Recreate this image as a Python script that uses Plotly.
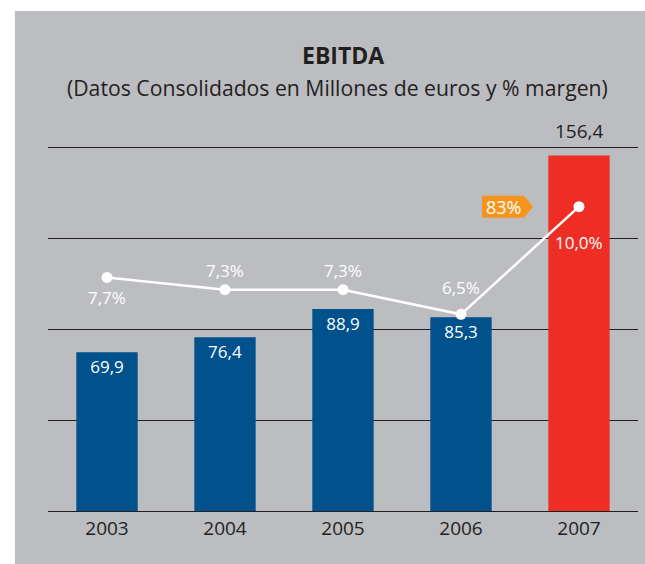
import plotly.graph_objects as go

years = ["2003", "2004", "2005", "2006", "2007"]
ebitda = [69.9, 76.4, 88.9, 85.3, 156.4]
ebitda_labels = ["69,9", "76,4", "88,9", "85,3", "156,4"]
margin = [7.7, 7.3, 7.3, 6.5, 10.0]
margin_labels = ["7,7%", "7,3%", "7,3%", "6,5%", "10,0%"]
growth_label = "83%"

blue = "#00518c"
red = "#ee2e24"
orange = "#f7941d"
gray = "#bcbdc1"
dark = "#231f20"
font = "Open Sans"

pos = list(range(len(years)))
bar_colors = [blue] * 4 + [red]
# the last bar gets its label above it as an annotation
bar_text = ebitda_labels[:-1] + [""]

bars = go.Bar(
    x=pos,
    y=ebitda,
    text=bar_text,
    textposition="inside",
    insidetextanchor="end",
    insidetextfont=dict(color="white", size=17, family=font),
    textangle=0,
    cliponaxis=False,
    marker=dict(color=bar_colors, line=dict(width=0)),
    width=0.52,
    hoverinfo="skip",
)

line = go.Scatter(
    x=pos,
    y=margin,
    yaxis="y2",
    mode="lines+markers",
    line=dict(color="white", width=2.5),
    marker=dict(color="white", size=11),
    cliponaxis=False,
    hoverinfo="skip",
)

fig = go.Figure(data=[bars, line])

fig.add_annotation(
    x=pos[-1], y=ebitda[-1], xref="x", yref="y", text=ebitda_labels[-1],
    showarrow=False, yanchor="bottom", yshift=10,
    font=dict(color=dark, size=19, family=font),
)

# margin labels: below for first and last point, above for the others
label_shift = [-20, 19, 19, 27, -36]
for p, m, lab, sh in zip(pos, margin, margin_labels, label_shift):
    fig.add_annotation(
        x=p, y=m, xref="x", yref="y2", text=lab, showarrow=False,
        yshift=sh, font=dict(color="white", size=17, family=font),
    )

# orange growth tag next to the 2007 point
fig.add_shape(
    type="path", xref="x", yref="y2",
    xsizemode="pixel", ysizemode="pixel",
    xanchor=pos[-1], yanchor=margin[-1],
    path="M-97,11 L-55,11 L-46,0 L-55,-11 L-97,-11 Z",
    fillcolor=orange, line=dict(width=0),
)
fig.add_annotation(
    x=pos[-1], y=margin[-1], xref="x", yref="y2", text=growth_label,
    showarrow=False, xshift=-76, yshift=0,
    font=dict(color="white", size=18, family=font),
)

fig.add_annotation(
    x=0.5, y=1.249, xref="paper", yref="paper", text="<b>EBITDA</b>",
    showarrow=False, yanchor="middle",
    font=dict(color=dark, size=23, family=font),
)
fig.add_annotation(
    x=0.49, y=1.16, xref="paper", yref="paper",
    text="(Datos Consolidados en Millones de euros y % margen)",
    showarrow=False, yanchor="middle",
    font=dict(color=dark, size=21.2, family=font),
)

# white strips on the left and top, the rest of the page is the gray panel
fig.add_shape(
    type="rect", xref="paper", yref="paper", x0=-0.1, x1=-0.056,
    y0=-0.2, y1=1.5, fillcolor="white", line=dict(width=0), layer="below",
)
fig.add_shape(
    type="rect", xref="paper", yref="paper", x0=-0.1, x1=1.1,
    y0=1.37, y1=1.5, fillcolor="white", line=dict(width=0), layer="below",
)

fig.update_layout(
    width=645,
    height=564,
    margin=dict(l=48, r=7, t=146, b=53),
    paper_bgcolor=gray,
    plot_bgcolor=gray,
    showlegend=False,
    xaxis=dict(
        range=[-0.5, 4.5], tickvals=pos, ticktext=years,
        showgrid=False, showline=True, linecolor=dark, linewidth=1.3,
        zeroline=False, ticks="",
        tickfont=dict(color=dark, size=19, family=font),
        fixedrange=True,
    ),
    yaxis=dict(
        range=[0, 160.6], tickvals=[40, 80, 120, 160], showgrid=True,
        gridcolor=dark, gridwidth=1.2, showticklabels=False,
        zeroline=False, fixedrange=True,
    ),
    yaxis2=dict(
        range=[0.11, 11.97], overlaying="y", showgrid=False,
        showticklabels=False, zeroline=False, fixedrange=True,
    ),
)

# drop the default page margin so the figure fills the window
fig.write_html(
    "out.html",
    config={"displayModeBar": False},
    post_script="document.body.style.margin='0';document.body.style.overflow='hidden';",
)
